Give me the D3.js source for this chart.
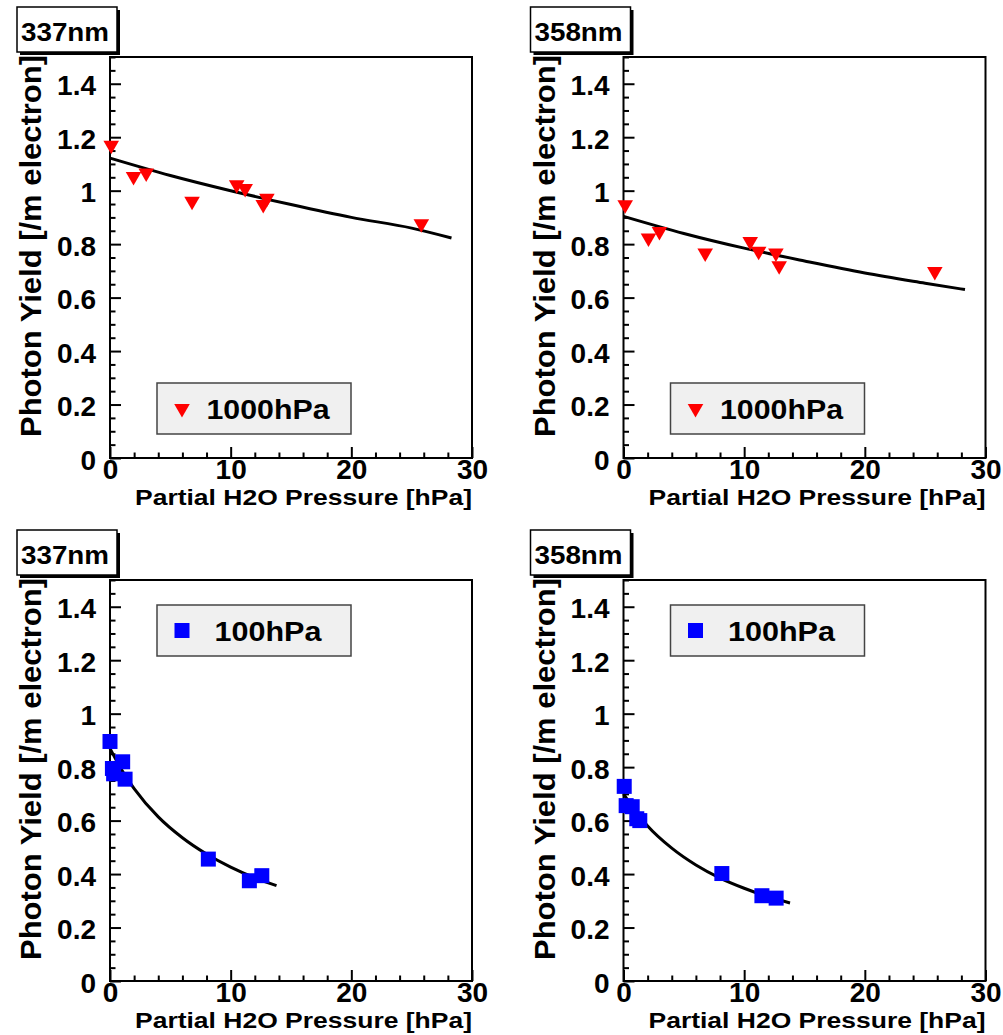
<!DOCTYPE html>
<html>
<head>
<meta charset="utf-8">
<script src="https://cdn.jsdelivr.net/npm/d3@7"></script>
<style>
  body { margin: 0; background: #fff; }
  text { font-family: "Liberation Sans", Arial, sans-serif; font-weight: bold; }
</style>
</head>
<body>
<script>
// tick values
const xTicks = [0, 10, 20, 30];
const yTicks = [0, 0.2, 0.4, 0.6, 0.8, 1, 1.2, 1.4];

// 1000 hPa measurements
const h2o337_1000 = [0.1, 1.95, 3.0, 6.8, 10.5, 11.2, 12.7, 13.0, 25.8];
const yield337_1000 = [1.17, 1.053, 1.066, 0.96, 1.022, 1.008, 0.948, 0.972, 0.876];
const h2o358_1000 = [0.14, 2.07, 2.98, 6.77, 10.5, 11.2, 12.63, 12.9, 25.8];
const yield358_1000 = [0.947, 0.823, 0.847, 0.767, 0.81, 0.773, 0.767, 0.719, 0.698];

// 100 hPa measurements
const h2o337_100 = [0.0, 0.2, 0.3, 1.05, 1.25, 8.15, 11.55, 12.58];
const yield337_100 = [0.896, 0.795, 0.775, 0.82, 0.755, 0.456, 0.375, 0.394];
const h2o358_100 = [0.06, 0.22, 0.72, 1.1, 1.35, 8.15, 11.47, 12.65];
const yield358_100 = [0.728, 0.656, 0.652, 0.607, 0.60, 0.402, 0.319, 0.31];

// fitted curves
const fitX_1000 = [0, 5, 10, 15, 20, 25, 28.3];
const fit337_1000 = [1.122, 1.057, 1.0, 0.948, 0.90, 0.86, 0.823];
const fit358_1000 = [0.904, 0.84, 0.785, 0.737, 0.692, 0.654, 0.63];
const fitX_100 = [0, 1, 2, 4, 6, 8, 10, 12, 13.8];
const fit337_100 = [0.87, 0.787, 0.72, 0.614, 0.536, 0.475, 0.426, 0.386, 0.357];
const fit358_100 = [0.70, 0.635, 0.58, 0.497, 0.434, 0.385, 0.347, 0.315, 0.292];

const width = 362, height = 401;

const svg = d3.select("body")
  .append("svg")
  .attr("width", 1003)
  .attr("height", 1035);

svg.append("rect").attr("width", 1003).attr("height", 1035).attr("fill", "#fff");

const panels = [
  { left: 110, top: 57, title: "337nm", xs: h2o337_1000, ys: yield337_1000, fx: fitX_1000, fy: fit337_1000,
    color: "#ff0000", marker: "tri", legend: "1000hPa", legLen: 123, legTop: 326 },
  { left: 623.5, top: 57, title: "358nm", xs: h2o358_1000, ys: yield358_1000, fx: fitX_1000, fy: fit358_1000,
    color: "#ff0000", marker: "tri", legend: "1000hPa", legLen: 123, legTop: 326 },
  { left: 110, top: 580, title: "337nm", xs: h2o337_100, ys: yield337_100, fx: fitX_100, fy: fit337_100,
    color: "#0000ff", marker: "sq", legend: "100hPa", legLen: 107, legTop: 25 },
  { left: 623.5, top: 580, title: "358nm", xs: h2o358_100, ys: yield358_100, fx: fitX_100, fy: fit358_100,
    color: "#0000ff", marker: "sq", legend: "100hPa", legLen: 107, legTop: 25 }
];

const triangle = d3.symbol().type(d3.symbolTriangle).size(105);
const square = d3.symbol().type(d3.symbolSquare).size(225);

panels.forEach(p => {
  const g = svg.append("g").attr("transform", `translate(${p.left},${p.top})`);

  const x = d3.scaleLinear().domain([0, 30]).range([0, width]);
  const y = d3.scaleLinear().domain([0, 1.5]).range([height, 0]);

  // title box with shadow
  const tb = svg.append("g").attr("transform", `translate(${p.left - 93},${p.top - 50})`);
  tb.append("rect").attr("x", 3).attr("y", 3).attr("width", 100).attr("height", 45).attr("fill", "#000");
  tb.append("rect").attr("width", 100).attr("height", 45).attr("fill", "#fff")
    .attr("stroke", "#000").attr("stroke-width", 1.5);
  tb.append("text").attr("x", 4).attr("y", 34).style("font-size", "25px")
    .attr("textLength", 88).attr("lengthAdjust", "spacingAndGlyphs").text(p.title);

  // minor ticks
  const yMinor = d3.range(0, 1.5001, 0.05).filter(v => Math.abs(v * 5 - Math.round(v * 5)) > 1e-6);
  const xMinor = d3.range(0, 30.001, 2).filter(v => v % 10 !== 0);

  g.append("g")
    .call(d3.axisLeft(y).tickValues(yMinor).tickSize(-5.5).tickSizeOuter(0).tickFormat(""))
    .call(a => a.select(".domain").remove())
    .selectAll("line").attr("stroke-width", 2);

  g.append("g")
    .attr("transform", `translate(0,${height})`)
    .call(d3.axisBottom(x).tickValues(xMinor).tickSize(-5.5).tickSizeOuter(0).tickFormat(""))
    .call(a => a.select(".domain").remove())
    .selectAll("line").attr("stroke-width", 2);

  // major ticks + labels
  const ya = g.append("g")
    .call(d3.axisLeft(y).tickValues(yTicks).tickSize(-11).tickSizeOuter(0).tickPadding(14)
      .tickFormat(d3.format("~g")))
    .call(a => a.select(".domain").remove());
  ya.selectAll("line").attr("stroke-width", 2);
  ya.selectAll("text").attr("dy", "0.4em").style("font-size", "28px").attr("fill", "#000")
    .style("font-family", "'Liberation Sans', Arial, sans-serif").style("font-weight", "bold");

  const xa = g.append("g")
    .attr("transform", `translate(0,${height})`)
    .call(d3.axisBottom(x).tickValues(xTicks).tickSize(-11).tickSizeOuter(0).tickPadding(1))
    .call(a => a.select(".domain").remove());
  xa.selectAll("line").attr("stroke-width", 2);
  xa.selectAll("text").attr("dy", "0.72em").style("font-size", "28px").attr("fill", "#000")
    .style("font-family", "'Liberation Sans', Arial, sans-serif").style("font-weight", "bold");

  // frame
  g.append("rect").attr("width", width).attr("height", height)
    .attr("fill", "none").attr("stroke", "#000").attr("stroke-width", 2);

  // axis titles
  g.append("text")
    .attr("transform", "rotate(-90)")
    .attr("x", -189).attr("y", -69)
    .style("text-anchor", "middle").style("font-size", "29px")
    .attr("textLength", 382).attr("lengthAdjust", "spacingAndGlyphs")
    .text("Photon Yield [/m electron]");

  g.append("text")
    .attr("x", width).attr("y", height + 47)
    .style("text-anchor", "end").style("font-size", "22px")
    .attr("textLength", 337).attr("lengthAdjust", "spacingAndGlyphs")
    .text("Partial H2O Pressure [hPa]");

  // fit curve
  const fit = p.fx.map((v, i) => [v, p.fy[i]]);
  g.append("path")
    .datum(fit)
    .attr("fill", "none").attr("stroke", "#000").attr("stroke-width", 3)
    .attr("d", d3.line().x(d => x(d[0])).y(d => y(d[1])).curve(d3.curveMonotoneX));

  // data points
  const pts = p.xs.map((v, i) => [v, p.ys[i]]);
  g.selectAll("path.pt")
    .data(pts)
    .join("path")
    .attr("class", "pt")
    .attr("d", p.marker === "tri" ? triangle() : square())
    .attr("transform", d => `translate(${x(d[0])},${y(d[1])})` + (p.marker === "tri" ? " rotate(180)" : ""))
    .attr("fill", p.color);

  // legend
  const lg = g.append("g").attr("transform", `translate(47,${p.legTop})`);
  lg.append("rect").attr("width", 194).attr("height", 51)
    .attr("fill", "#f0f0f0").attr("stroke", "#444").attr("stroke-width", 1.5);
  lg.append("path")
    .attr("d", p.marker === "tri" ? triangle() : square())
    .attr("transform", `translate(25,25.5)` + (p.marker === "tri" ? " rotate(180)" : ""))
    .attr("fill", p.color);
  lg.append("text")
    .attr("x", 111).attr("y", 36)
    .style("text-anchor", "middle").style("font-size", "27px")
    .attr("textLength", p.legLen).attr("lengthAdjust", "spacingAndGlyphs")
    .text(p.legend);
});
</script>
</body>
</html>
